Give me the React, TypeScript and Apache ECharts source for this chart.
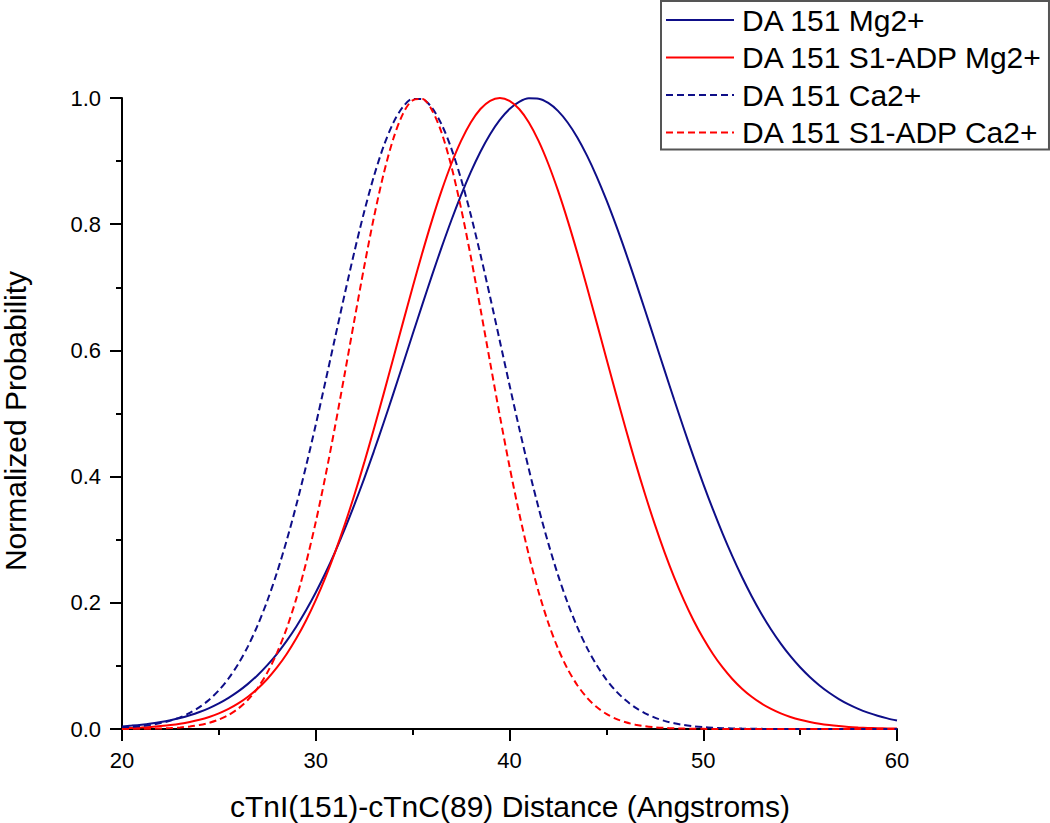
import React, { useEffect, useRef } from "react";
import * as echarts from "echarts";

// Distance (Angstroms) sample positions, every 0.5 A
const distances = [
  20, 20.5, 21, 21.5, 22, 22.5, 23, 23.5, 24, 24.5, 25, 25.5, 26, 26.5, 27, 27.5, 28, 28.5, 29, 29.5,
  30, 30.5, 31, 31.5, 32, 32.5, 33, 33.5, 34, 34.5, 35, 35.5, 36, 36.5, 37, 37.5, 38, 38.5, 39, 39.5,
  40, 40.5, 41, 41.5, 42, 42.5, 43, 43.5, 44, 44.5, 45, 45.5, 46, 46.5, 47, 47.5, 48, 48.5, 49, 49.5,
  50, 50.5, 51, 51.5, 52, 52.5, 53, 53.5, 54, 54.5, 55, 55.5, 56, 56.5, 57, 57.5, 58, 58.5, 59, 59.5, 60,
];

// DA 151 Mg2+ (navy, solid)
const mgValues = [
  0.0041, 0.0054, 0.0069, 0.0088, 0.0111, 0.014, 0.0175, 0.0218, 0.027, 0.0332,
  0.0406, 0.0494, 0.0596, 0.0715, 0.0853, 0.1012, 0.1192, 0.1396, 0.1625, 0.1881,
  0.2163, 0.2472, 0.2808, 0.3171, 0.3559, 0.3969, 0.4401, 0.4849, 0.5311, 0.5781,
  0.6255, 0.6726, 0.7189, 0.7636, 0.8063, 0.8461, 0.8825, 0.9149, 0.9426, 0.9653,
  0.9826, 0.994, 0.9995, 0.9989, 0.9922, 0.9796, 0.9612, 0.9375, 0.9087, 0.8755,
  0.8384, 0.798, 0.7549, 0.7097, 0.6633, 0.616, 0.5687, 0.5217, 0.4758, 0.4313,
  0.3886, 0.3479, 0.3096, 0.2739, 0.2408, 0.2104, 0.1827, 0.1577, 0.1353, 0.1154,
  0.0978, 0.0824, 0.069, 0.0574, 0.0475, 0.039, 0.0319, 0.0259, 0.0209, 0.0168, 0.0134,
];

// DA 151 S1-ADP Mg2+ (red, solid)
const s1MgValues = [
  0.0012, 0.0017, 0.0024, 0.0033, 0.0046, 0.0062, 0.0083, 0.0111, 0.0146, 0.0191,
  0.0247, 0.0318, 0.0405, 0.0511, 0.0639, 0.0793, 0.0975, 0.1189, 0.1437, 0.172,
  0.2043, 0.2404, 0.2804, 0.3242, 0.3716, 0.4221, 0.4754, 0.5307, 0.5872, 0.644,
  0.7002, 0.7546, 0.8061, 0.8535, 0.8958, 0.932, 0.9612, 0.9826, 0.9956, 1.0,
  0.9956, 0.9826, 0.9612, 0.932, 0.8958, 0.8535, 0.8061, 0.7546, 0.7002, 0.644,
  0.5872, 0.5307, 0.4754, 0.4221, 0.3716, 0.3242, 0.2804, 0.2404, 0.2043, 0.172,
  0.1437, 0.1189, 0.0975, 0.0793, 0.0639, 0.0511, 0.0405, 0.0318, 0.0247, 0.0191,
  0.0146, 0.0111, 0.0083, 0.0062, 0.0046, 0.0033, 0.0024, 0.0017, 0.0012, 0.0009, 0.0006,
];

// DA 151 Ca2+ (navy, dashed)
const caValues = [
  0.0021, 0.0031, 0.0045, 0.0066, 0.0094, 0.0133, 0.0185, 0.0255, 0.0347, 0.0464,
  0.0614, 0.0801, 0.1031, 0.131, 0.1643, 0.2032, 0.2481, 0.2989, 0.3552, 0.4167,
  0.4822, 0.5507, 0.6205, 0.69, 0.7572, 0.8198, 0.8758, 0.9233, 0.9605, 0.9859,
  0.9986, 0.9981, 0.9843, 0.9579, 0.9199, 0.8716, 0.815, 0.7519, 0.6846, 0.615,
  0.5452, 0.4768, 0.4116, 0.3505, 0.2946, 0.2443, 0.1999, 0.1614, 0.1286, 0.1011,
  0.0784, 0.06, 0.0454, 0.0338, 0.0249, 0.018, 0.0129, 0.0091, 0.0064, 0.0044,
  0.003, 0.002, 0.0013, 0.0009, 0.0006, 0.0004, 0.0002, 0.0001, 0.0001, 0,
  0, 0, 0, 0, 0, 0, 0, 0, 0, 0, 0,
];

// DA 151 S1-ADP Ca2+ (red, dashed)
const s1CaValues = [
  0.0001, 0.0002, 0.0003, 0.0005, 0.0009, 0.0015, 0.0025, 0.004, 0.0063, 0.0098,
  0.0149, 0.0221, 0.0323, 0.0463, 0.065, 0.0894, 0.1207, 0.1596, 0.207, 0.2632,
  0.328, 0.4008, 0.4801, 0.5638, 0.6491, 0.7326, 0.8106, 0.8793, 0.9351, 0.9749,
  0.9964, 0.9984, 0.9807, 0.9445, 0.8917, 0.8252, 0.7488, 0.6661, 0.5809, 0.4966,
  0.4162, 0.342, 0.2755, 0.2176, 0.1684, 0.1278, 0.0951, 0.0694, 0.0496, 0.0348,
  0.0239, 0.0161, 0.0106, 0.0069, 0.0044, 0.0027, 0.0017, 0.001, 0.0006, 0.0003,
  0.0002, 0.0001, 0.0001, 0, 0, 0, 0, 0, 0, 0,
  0, 0, 0, 0, 0, 0, 0, 0, 0, 0, 0,
];

const seriesNames = [
  "DA 151 Mg2+",
  "DA 151 S1-ADP Mg2+",
  "DA 151 Ca2+",
  "DA 151 S1-ADP Ca2+",
];

const xTitle = "cTnI(151)-cTnC(89) Distance (Angstroms)";
const yTitle = "Normalized Probability";

const FONT = "'Liberation Sans', Arial, Helvetica, sans-serif";
const NAVY = "#0e0e88";
const RED = "#ff0000";
const DASH = [7, 4];

function pairs(ys: number[]) {
  return distances.map((x, i) => [x, ys[i]]);
}

function makeSeries(name: string, ys: number[], color: string, dashed: boolean) {
  return {
    name,
    type: "line",
    data: pairs(ys),
    symbol: "none",
    showSymbol: false,
    smooth: 0.3,
    clip: true,
    lineStyle: { color, width: 2, type: dashed ? DASH : "solid" },
    itemStyle: { color },
    emphasis: { disabled: true },
  };
}

const axisCommon = {
  axisLine: { show: true, onZero: false, lineStyle: { color: "#000", width: 2 } },
  axisTick: { show: true, inside: false, length: 12, lineStyle: { color: "#000", width: 2 } },
  minorTick: { show: true, splitNumber: 2, length: 6, lineStyle: { color: "#000", width: 2 } },
  splitLine: { show: false },
  minorSplitLine: { show: false },
};

export default function App() {
  const ref = useRef<HTMLDivElement>(null);

  useEffect(() => {
    if (!ref.current) return;
    const chart = echarts.init(ref.current, null, { renderer: "svg" });
    const option: any = {
      animation: false,
      backgroundColor: "#ffffff",
      textStyle: { fontFamily: FONT },
      grid: {
        left: 122,
        right: 153,
        top: 98,
        bottom: 94,
        containLabel: false,
        outerBoundsMode: "none",
      },
      xAxis: {
        type: "value",
        min: 20,
        max: 60,
        interval: 10,
        ...axisCommon,
        axisLabel: {
          color: "#000",
          fontSize: 22,
          fontFamily: FONT,
          margin: 20,
          showMinLabel: true,
          showMaxLabel: true,
        },
      },
      yAxis: {
        type: "value",
        min: 0,
        max: 1,
        interval: 0.2,
        ...axisCommon,
        axisLabel: {
          color: "#000",
          fontSize: 22,
          fontFamily: FONT,
          margin: 21,
          showMinLabel: true,
          showMaxLabel: true,
          formatter: (v: number) => v.toFixed(1),
        },
      },
      legend: {
        show: true,
        orient: "vertical",
        left: 661,
        top: 1,
        data: seriesNames,
        itemWidth: 68,
        itemHeight: 30,
        itemGap: 7.5,
        padding: [4, 6, 2, 4],
        borderColor: "#555555",
        borderWidth: 2,
        backgroundColor: "#ffffff",
        selectedMode: false,
        itemStyle: { opacity: 0, color: "rgba(0,0,0,0)", borderWidth: 0 },
        textStyle: {
          color: "#000",
          fontSize: 30,
          fontFamily: FONT,
          lineHeight: 30,
          padding: [0, 0, 0, 3],
        },
      },
      graphic: [
        {
          type: "text",
          x: 510,
          y: 806,
          style: {
            text: xTitle,
            font: `30px ${FONT}`,
            fill: "#000",
            align: "center",
            verticalAlign: "middle",
          },
        },
        {
          type: "text",
          x: 15,
          y: 421,
          rotation: Math.PI / 2,
          style: {
            text: yTitle,
            font: `30px ${FONT}`,
            fill: "#000",
            align: "center",
            verticalAlign: "middle",
          },
        },
      ],
      series: [
        makeSeries(seriesNames[0], mgValues, NAVY, false),
        makeSeries(seriesNames[1], s1MgValues, RED, false),
        makeSeries(seriesNames[2], caValues, NAVY, true),
        makeSeries(seriesNames[3], s1CaValues, RED, true),
      ],
    };
    chart.setOption(option);
    return () => chart.dispose();
  }, []);

  return (
    <div
      ref={ref}
      style={{ position: "fixed", left: 0, top: 0, width: 1050, height: 823, background: "#fff" }}
    />
  );
}
